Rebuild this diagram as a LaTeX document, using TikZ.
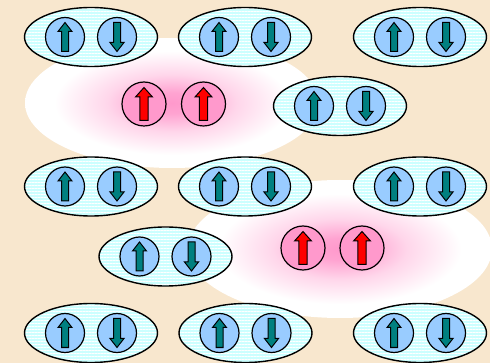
\documentclass[tikz,border=0pt]{standalone}
\usepackage{tikz}
\usetikzlibrary{shapes.geometric,patterns.meta}
\definecolor{parchment}{HTML}{F8E7CE}
\definecolor{paircyan}{HTML}{CCFFFF}
\definecolor{spinblue}{HTML}{99CCFF}
\definecolor{spinteal}{HTML}{008080}
\definecolor{spinpink}{HTML}{FF99CC}
\definecolor{glowpink}{HTML}{FF99CC}
\pgfdeclareradialshading{glow}{\pgfpoint{0bp}{0bp}}{%
  color(0bp)=(glowpink); color(4bp)=(glowpink!90!white);
  color(11bp)=(glowpink!40!white); color(20bp)=(white); color(50bp)=(white)}
\tikzset{
pairbox/.style = {ellipse, draw, line width=1.4pt, inner sep=0pt,
  minimum width=133pt, minimum height=59pt,
  preaction={fill=paircyan},
  pattern={Lines[angle=0,distance=3pt,line width=1pt]}, pattern color=white},
spin/.style = {circle, draw, line width=1.2pt, fill=spinblue, inner sep=0pt,
  minimum size=#1},
spin/.default = 39pt, % circle diameter
freespin/.style = {spin=44pt, fill=spinpink},
spinarrow/.style = {draw, line width=1pt, line join=miter}
}
\tikzset{
tealup/.pic = {\path[spinarrow,fill=spinteal] (-3.5,14.5) -- (3.5,14.5) -- (3.5,-5.5)
  -- (7,-5.5) -- (0,-14.5) -- (-7,-5.5) -- (-3.5,-5.5) -- cycle;},
tealdown/.pic = {\path[spinarrow,fill=spinteal] (-3.5,-14.5) -- (3.5,-14.5) -- (3.5,5.5)
  -- (7,5.5) -- (0,14.5) -- (-7,5.5) -- (-3.5,5.5) -- cycle;},
redup/.pic = {\path[spinarrow,fill=red] (-4.2,16.5) -- (4.2,16.5) -- (4.2,-7)
  -- (8.5,-7) -- (0,-16.5) -- (-8.5,-7) -- (-4.2,-7) -- cycle;},
pair/.pic = {
  \node[pairbox] (-e) {};
  \node[spin] (-a) at (-26,0) {};
  \node[spin] (-b) at (26,0) {};
  \pic at (-26,0) {tealup};
  \pic at (26,0) {tealdown};
}
}

\begin{document}
\begin{tikzpicture}[x=1pt,y=-1pt]
    \fill[parchment] (0,0) rectangle (490,363);
    \useasboundingbox (0,0) rectangle (490,363);
    % the two glows round the unpaired spins
    \shade[shading=glow] (172,103) ellipse [x radius=147, y radius=65];
    \shade[shading=glow] (340,249) ellipse [x radius=152, y radius=69];
    % paired spins
    \pic (p11) at (91,37) {pair};
    \pic (p12) at (245,37) {pair};
    \pic (p13) at (420,37) {pair};
    \pic (p21) at (340,106) {pair};
    \pic (p31) at (91,186.5) {pair};
    \pic (p32) at (245,186.5) {pair};
    \pic (p33) at (420,186.5) {pair};
    \pic (p41) at (165.5,256.5) {pair};
    \pic (p51) at (91,333) {pair};
    \pic (p52) at (245.5,333) {pair};
    \pic (p53) at (420,333) {pair};
    % unpaired spins
    \node[freespin] (f1) at (144,104) {};
    \node[freespin] (f2) at (203.5,104) {};
    \node[freespin] (f3) at (303,248) {};
    \node[freespin] (f4) at (362,248) {};
    \pic at (f1) {redup};
    \pic at (f2) {redup};
    \pic at (f3) {redup};
    \pic at (f4) {redup};
\end{tikzpicture}
\end{document}
